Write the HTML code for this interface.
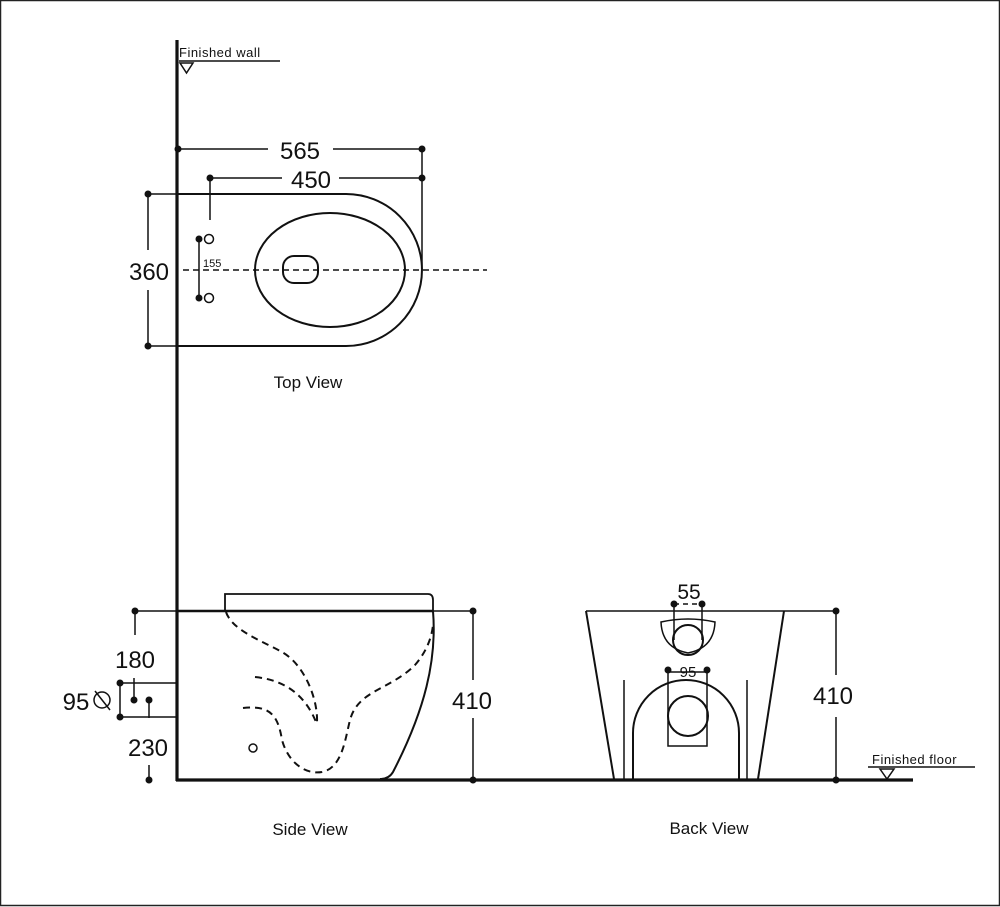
<!DOCTYPE html>
<html><head><meta charset="utf-8"><style>
html,body{margin:0;padding:0;background:#fff}
svg{display:block}
text{font-family:"Liberation Sans",Arial,sans-serif;fill:#111}
</style></head><body>
<svg width="1000" height="907" viewBox="0 0 1000 907" xmlns="http://www.w3.org/2000/svg">
<rect x="0.5" y="0.5" width="999" height="905" fill="#fff" stroke="#222" stroke-width="1.5"/>
<g stroke="#111" fill="none" stroke-width="1.5">
<line x1="177" y1="40" x2="177" y2="781" stroke-width="3.2"/>
<line x1="176" y1="780" x2="913" y2="780" stroke-width="3.2"/>
<line x1="179" y1="61" x2="280" y2="61"/>
<path d="M180,63 L193,63 L186.5,73 Z"/>
<line x1="177" y1="149" x2="268" y2="149"/><line x1="333" y1="149" x2="422" y2="149"/>
<line x1="210" y1="178" x2="282" y2="178"/><line x1="339" y1="178" x2="422" y2="178"/>
<line x1="210" y1="178" x2="210" y2="220"/>
<line x1="422" y1="149" x2="422" y2="270"/>
<line x1="148" y1="194" x2="177" y2="194"/><line x1="148" y1="346" x2="177" y2="346"/>
<line x1="148" y1="194" x2="148" y2="250"/><line x1="148" y1="290" x2="148" y2="346"/>
<path d="M177,194 L346,194 A76,76 0 0 1 346,346 L177,346" stroke-width="2"/>
<ellipse cx="330" cy="270" rx="75" ry="57" stroke-width="2"/>
<rect x="283" y="256" width="35" height="27" rx="11" stroke-width="2"/>
<line x1="183" y1="270" x2="487" y2="270" stroke-dasharray="6,4" stroke-width="1.6"/>
<circle cx="209" cy="239" r="4.5"/><circle cx="209" cy="298" r="4.5"/>
<line x1="199" y1="239" x2="199" y2="298"/>
<line x1="133" y1="611" x2="473" y2="611"/>
<line x1="177" y1="611" x2="433" y2="611" stroke-width="2.6"/>
<path d="M225,611 L225,594 L428,594 Q433,594 433,600 L433,611" stroke-width="1.8"/>
<path d="M433,611 C437,660 425,710 393,772 Q389,779 380,779" stroke-width="2"/>
<path d="M226,612 C232,630 260,640 282,652 C305,665 318,700 317,722" stroke-dasharray="7,5" stroke-width="2"/>
<path d="M255,677 C285,680 305,695 316,722" stroke-dasharray="7,5" stroke-width="2"/>
<path d="M243,708 C270,705 278,715 282,740 C288,762 305,775 322,772 C342,768 345,740 350,720 C358,690 390,690 415,665 C428,650 432,635 433,625" stroke-dasharray="7,5" stroke-width="2"/>
<circle cx="253" cy="748" r="4"/>
<line x1="135" y1="611" x2="135" y2="635"/>
<line x1="120" y1="683" x2="177" y2="683"/><line x1="120" y1="717" x2="177" y2="717"/>
<line x1="120" y1="683" x2="120" y2="717"/>
<line x1="134" y1="678" x2="134" y2="700"/>
<line x1="149" y1="700" x2="149" y2="718"/>
<line x1="149" y1="765" x2="149" y2="780"/>
<circle cx="102" cy="700" r="8"/><line x1="95" y1="691" x2="110" y2="710"/>
<line x1="473" y1="611" x2="473" y2="680"/><line x1="473" y1="718" x2="473" y2="780"/>
<line x1="586" y1="611" x2="836" y2="611"/>
<line x1="586" y1="611" x2="614" y2="779" stroke-width="2"/>
<line x1="784" y1="611" x2="758" y2="779" stroke-width="2"/>
<line x1="836" y1="611" x2="836" y2="675"/><line x1="836" y1="717" x2="836" y2="780"/>
<line x1="624" y1="680" x2="624" y2="779"/><line x1="747" y1="680" x2="747" y2="779"/>
<path d="M633,779 L633,733 A53,53 0 0 1 739,733 L739,779" stroke-width="2"/>
<rect x="668" y="672" width="39" height="74"/>
<circle cx="688" cy="716" r="20" stroke-width="2"/>
<path d="M661,622 Q688,616 715,622 Q714,648 688,653 Q662,648 661,622 Z"/>
<circle cx="688" cy="640" r="15" stroke-width="2"/>
<line x1="674" y1="603" x2="674" y2="640"/><line x1="702" y1="603" x2="702" y2="640"/>
<line x1="674" y1="604" x2="702" y2="604" stroke-dasharray="5,4"/>
<line x1="868" y1="767" x2="975" y2="767"/>
<path d="M880,769 L894,769 L887,779 Z"/>
</g>
<g fill="#111">
<circle cx="178" cy="149" r="3.5"/><circle cx="422" cy="149" r="3.5"/>
<circle cx="210" cy="178" r="3.5"/><circle cx="422" cy="178" r="3.5"/>
<circle cx="148" cy="194" r="3.5"/><circle cx="148" cy="346" r="3.5"/>
<circle cx="199" cy="239" r="3.5"/><circle cx="199" cy="298" r="3.5"/>
<circle cx="135" cy="611" r="3.5"/><circle cx="473" cy="611" r="3.5"/>
<circle cx="120" cy="683" r="3.5"/><circle cx="120" cy="717" r="3.5"/>
<circle cx="134" cy="700" r="3.5"/><circle cx="149" cy="700" r="3.5"/>
<circle cx="149" cy="780" r="3.5"/><circle cx="473" cy="780" r="3.5"/>
<circle cx="836" cy="611" r="3.5"/><circle cx="836" cy="780" r="3.5"/>
<circle cx="668" cy="670" r="3.5"/><circle cx="707" cy="670" r="3.5"/>
<circle cx="674" cy="604" r="3.5"/><circle cx="702" cy="604" r="3.5"/>
</g>
<text x="179" y="57" font-size="13" letter-spacing="0.5">Finished wall</text>
<text x="300" y="159" font-size="24" text-anchor="middle">565</text>
<text x="311" y="188" font-size="24" text-anchor="middle">450</text>
<text x="149" y="280" font-size="24" text-anchor="middle">360</text>
<text x="203" y="267" font-size="11">155</text>
<text x="308" y="388" font-size="17" text-anchor="middle">Top View</text>
<text x="135" y="668" font-size="24" text-anchor="middle">180</text>
<text x="76" y="710" font-size="24" text-anchor="middle">95</text>
<text x="148" y="756" font-size="24" text-anchor="middle">230</text>
<text x="472" y="709" font-size="24" text-anchor="middle">410</text>
<text x="310" y="835" font-size="17" text-anchor="middle">Side View</text>
<text x="689" y="599" font-size="21" text-anchor="middle">55</text>
<text x="688" y="677" font-size="15" text-anchor="middle">95</text>
<text x="833" y="704" font-size="24" text-anchor="middle">410</text>
<text x="872" y="764" font-size="13" letter-spacing="0.5">Finished floor</text>
<text x="709" y="834" font-size="17" text-anchor="middle">Back View</text>
</svg>
</body></html>
